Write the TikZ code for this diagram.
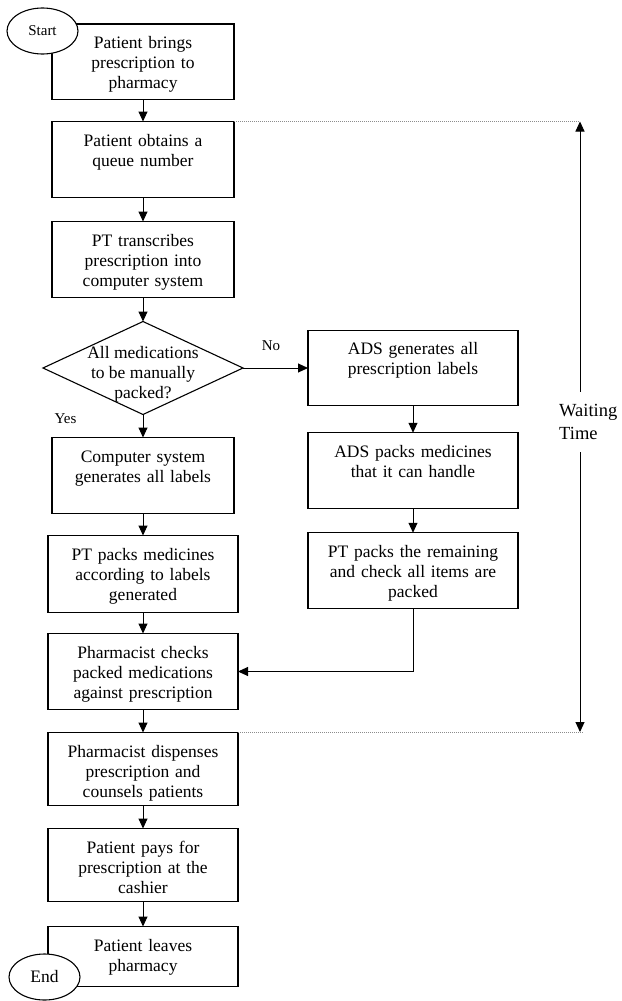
\documentclass[tikz,border=0pt]{standalone}
\usepackage{fontspec}
\setmainfont{Liberation Serif}
\usepackage{xcolor}
\usetikzlibrary{arrows.meta,positioning,shapes.geometric}
\definecolor{flowblack}{HTML}{000000}
\definecolor{flowdots}{HTML}{8C8C8C}
\tikzset{
  box/.style={draw=flowblack,line width=1.1pt,fill=white,align=center,inner xsep=4pt,inner ysep=4pt,outer sep=0pt,text width=174pt,text height=20.5pt,text depth=47.5pt,font=\fontsize{17.5}{20}\selectfont},
  widebox/.style={box,text width=182pt},
  adsbox/.style={box,text width=202pt},
  decision/.style={diamond,draw=flowblack,line width=1.1pt,minimum width=200pt,minimum height=93pt,inner sep=0pt,outer sep=0pt},
  term/.style={ellipse,draw=flowblack,line width=1.1pt,fill=white,minimum width=71pt,minimum height=46pt,inner sep=0pt,outer sep=0pt},
  lbl/.style={font=\fontsize{15}{18}\selectfont,inner sep=0pt},
  ar/.style={-{Triangle[length=10pt,width=9pt]},draw=flowblack,line width=1pt},
  arb/.style={{Triangle[length=10pt,width=9pt]}-{Triangle[length=10pt,width=9pt]},draw=flowblack,line width=1pt},
  dotline/.style={draw=flowdots,line width=0.8pt,dash pattern=on 1pt off 1pt},
}
\begin{document}
\begin{tikzpicture}[x=1pt,y=-1pt]
  \useasboundingbox (0,0) rectangle (621,1001);
  % main column
  \node[box,anchor=north,text depth=47pt] (bring) at (143,24) {Patient brings\\prescription to\\pharmacy};
  \node[box,below=22pt of bring] (queue) {Patient obtains a\\queue number};
  \node[box,below=24pt of queue] (transcribe) {PT transcribes\\prescription into\\computer system};
  \node[decision,below=24pt of transcribe] (dec) {};
  \node[align=center,inner sep=0pt,font=\fontsize{17.5}{20}\selectfont,yshift=-6pt] (dectext) at (dec) {All medications\\to be manually\\packed?};
  \node[box,below=23pt of dec] (labels) {Computer system\\generates all labels};
  \node[widebox,below=22pt of labels,text depth=48.5pt] (pack) {PT packs medicines\\according to labels\\generated};
  \node[widebox,below=21pt of pack] (check) {Pharmacist checks\\packed medications\\against prescription};
  \node[widebox,below=23pt of check,text depth=44.5pt] (dispense) {Pharmacist dispenses\\prescription and\\counsels patients};
  \node[widebox,below=23pt of dispense,text depth=44.5pt] (pay) {Patient pays for\\prescription at the\\cashier};
  \node[widebox,below=25pt of pay,text depth=31.5pt] (leave) {Patient leaves\\pharmacy};
  % ADS branch
  \node[adsbox,right=65pt of dec,text depth=47pt] (adslabels) {ADS generates all\\prescription labels};
  \node[adsbox,below=27pt of adslabels] (adspack) {ADS packs medicines\\that it can handle};
  \node[adsbox,below=24pt of adspack] (ptrest) {PT packs the remaining\\and check all items are\\packed};
  % terminals and labels
  \node[term,font=\fontsize{15}{18}\selectfont] (start) at (42.5,31) {Start};
  \node[term,font=\fontsize{17.5}{20}\selectfont] (end) at (44.5,977) {End};
  \node[lbl] (no) at (271,346) {No};
  \node[lbl] (yes) at (65.5,419) {Yes};
  % flow
  \draw[ar] (bring)--(queue);\draw[ar] (queue)--(transcribe);\draw[ar] (transcribe)--(dec);
  \draw[ar] (dec)--(labels);\draw[ar] (labels)--(pack);\draw[ar] (pack)--(check);
  \draw[ar] (check)--(dispense);\draw[ar] (dispense)--(pay);\draw[ar] (pay)--(leave);
  \draw[ar] (dec)--(adslabels);\draw[ar] (adslabels)--(adspack);\draw[ar] (adspack)--(ptrest);
  \draw[ar] (ptrest) |- (check);
  % waiting time
  \coordinate (wtop) at (580,121.5);
  \coordinate (wbot) at (580,732);
  \draw[dotline] (queue.north east) -- (queue.north east -| wtop);
  \draw[dotline] (dispense.north east) -- ([xshift=3pt]dispense.north east -| wbot);
  \draw[arb] (wtop) -- (wbot);
  \node[anchor=west,fill=white,align=left,inner xsep=0pt,inner ysep=12.5pt,font=\fontsize{18.5}{23}\selectfont] (wait) at (559,422) {Waiting\\Time};
\end{tikzpicture}
\end{document}
